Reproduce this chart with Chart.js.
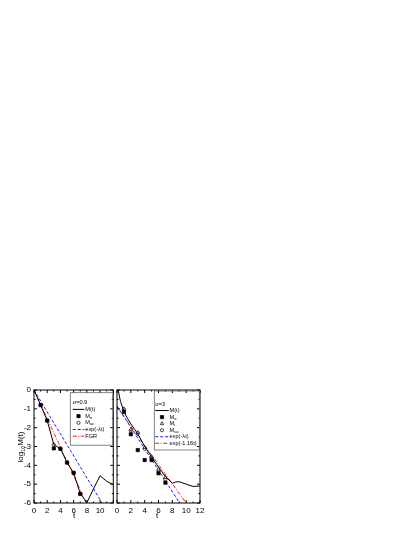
<!DOCTYPE html>
<html>
<head>
<meta charset="utf-8">
<script src="https://cdn.jsdelivr.net/npm/chart.js@4"></script>
<style>
  body { margin: 0; background: #fff; width: 415px; height: 537px; position: relative; overflow: hidden;
         font-family: "Liberation Sans", Arial, sans-serif; }
  .wrap { position: absolute; }
  #wrapL { left: 0; top: 380px; width: 118px; height: 140px; }
  #wrapR { left: 110px; top: 380px; width: 100px; height: 140px; }
  .lbl { position: absolute; font-size: 8px; color: #000; white-space: nowrap; }
  #ylab { left: 21px; top: 447px; transform: translate(-50%, -50%) rotate(-90deg); }
  #ylab sub { font-size: 5.5px; }
</style>
</head>
<body>
<div class="wrap" id="wrapL"><canvas id="left"></canvas></div>
<div class="wrap" id="wrapR"><canvas id="right"></canvas></div>
<div class="lbl" id="ylab">log<sub>10</sub>M(t)</div>
<div class="lbl" style="left:73px;top:511px;">t</div>
<div class="lbl" style="left:156px;top:511px;">t</div>
<script>
// axis ticks
const tTicks = [0, 2, 4, 6, 8, 10, 12];
const logTicks = [0, -1, -2, -3, -4, -5, -6];

// sigma = 0.9
const tLeftM = [0, 1, 2, 3, 4, 5, 6, 7, 8, 9, 10, 11, 12];
const leftM = [0, -0.8, -1.62, -2.9, -3.12, -3.85, -4.4, -5.5, -5.98, -5.25, -4.55, -4.85, -5.02];
const tLeftPts = [1, 2, 3, 4, 5, 6, 7];
const leftMe = [-0.8, -1.62, -3.1, -3.12, -3.85, -4.4, -5.52];
const leftMac = [-0.8, -1.62, -2.9, -3.12, -3.85, -4.4, -5.5];
const tLeftExp = [0, 10.3];
const leftExp = [0, -6];
const tLeftFgr = [0, 7.9];
const leftFgr = [0, -6];

// sigma = 3
const tRightM = [0, 0.5, 1, 1.5, 2, 3, 4, 5, 6, 7, 8, 8.5, 9, 10, 11, 12];
const rightM = [0.3, -0.6, -1.15, -1.5, -1.8, -2.32, -3.0, -3.55, -4.1, -4.6, -4.95, -4.88, -4.87, -5.0, -5.12, -5.1];
const tRightPts = [1, 2, 3, 4, 5, 6, 7];
const rightMe = [-1.17, -2.35, -3.19, -3.72, -3.72, -4.42, -4.92];
const rightMi = [-1.0, -2.1, -2.25, -3.05, -3.55, -4.2, -4.65];
const rightMac = [-1.05, -2.15, -2.3, -3.12, -3.6, -4.3, -4.75];
const tRightExp = [0, 9.05];
const rightExp = [-0.85, -6];
const tRightFit = [0, 10];
const rightFit = [-0.9, -6];

const BLUE = "#1a1aff";
const RED = "#ff1a1a";
const FONT = '"Liberation Sans", Arial, sans-serif';

function pts(ts, ys) {
  return ts.map((t, i) => ({ x: t, y: ys[i] }));
}

function lineSet(label, ts, ys, color, dash) {
  return { label, data: pts(ts, ys), showLine: true, borderColor: color, borderWidth: 1,
           borderDash: dash, pointRadius: 0, fill: false };
}

function markSet(label, ts, ys, style, filled, r) {
  return { label, data: pts(ts, ys), showLine: false, pointStyle: style, pointRadius: r,
           pointBackgroundColor: filled ? "#000" : "#fff", pointBorderColor: "#000",
           pointBorderWidth: 0.7 };
}

// frame with inward ticks on all four sides
const frameTicks = {
  id: "frameTicks",
  afterDatasetsDraw(chart) {
    const { ctx, chartArea: a, scales: { x, y } } = chart;
    ctx.save();
    ctx.strokeStyle = "#000";
    ctx.lineWidth = 1;
    ctx.strokeRect(a.left, a.top, a.right - a.left, a.bottom - a.top);
    ctx.beginPath();
    for (let i = 0; i < tTicks.length; i++) {
      const major = x.getPixelForValue(tTicks[i]);
      ctx.moveTo(major, a.bottom); ctx.lineTo(major, a.bottom - 3);
      ctx.moveTo(major, a.top); ctx.lineTo(major, a.top + 3);
      if (i < tTicks.length - 1) {
        const minor = x.getPixelForValue((tTicks[i] + tTicks[i + 1]) / 2);
        ctx.moveTo(minor, a.bottom); ctx.lineTo(minor, a.bottom - 1.5);
        ctx.moveTo(minor, a.top); ctx.lineTo(minor, a.top + 1.5);
      }
    }
    for (let i = 0; i < logTicks.length; i++) {
      const major = y.getPixelForValue(logTicks[i]);
      ctx.moveTo(a.left, major); ctx.lineTo(a.left + 3, major);
      ctx.moveTo(a.right, major); ctx.lineTo(a.right - 3, major);
      if (i < logTicks.length - 1) {
        const minor = y.getPixelForValue((logTicks[i] + logTicks[i + 1]) / 2);
        ctx.moveTo(a.left, minor); ctx.lineTo(a.left + 1.5, minor);
        ctx.moveTo(a.right, minor); ctx.lineTo(a.right - 1.5, minor);
      }
    }
    ctx.stroke();
    ctx.restore();
  }
};

// text with optional subscript pieces
function richText(ctx, parts, x, y) {
  for (const p of parts) {
    ctx.font = (p.sub ? "4.3px " : "5.6px ") + FONT;
    ctx.fillText(p.t, x, p.sub ? y + 1.5 : y);
    x += ctx.measureText(p.t).width;
  }
}

const boxLegend = {
  id: "boxLegend",
  afterDraw(chart, args, opts) {
    const { ctx, chartArea: a } = chart;
    const bx = a.right - opts.offRight - opts.width;
    const by = a.top + opts.offTop;
    ctx.save();
    ctx.strokeStyle = "#666";
    ctx.lineWidth = 0.8;
    ctx.strokeRect(bx, by, opts.width, opts.height);
    ctx.textBaseline = "middle";
    ctx.fillStyle = "#000";
    opts.items.forEach((it, i) => {
      const ry = a.top + opts.firstRow + i * opts.rowGap;
      const x0 = bx + opts.symL, x1 = bx + opts.symR, cx = (x0 + x1) / 2;
      ctx.save();
      if (it.kind === "line") {
        ctx.strokeStyle = it.color;
        ctx.lineWidth = 1;
        ctx.setLineDash(it.dash || []);
        ctx.beginPath(); ctx.moveTo(x0, ry); ctx.lineTo(x1, ry); ctx.stroke();
      } else if (it.kind === "mark") {
        ctx.lineWidth = 0.7;
        ctx.strokeStyle = "#000";
        ctx.fillStyle = it.filled ? "#000" : "#fff";
        Chart.helpers.drawPoint(ctx, { pointStyle: it.style, radius: it.r, borderWidth: 0.7 }, cx, ry);
      }
      ctx.restore();
      ctx.fillStyle = "#000";
      richText(ctx, it.text, it.kind === "title" ? x0 : bx + opts.textX, ry);
    });
    ctx.restore();
  }
};

function makeScales(showY, hideLast) {
  return {
    x: {
      type: "linear", min: 0, max: 12,
      grid: { display: false, drawTicks: false }, border: { display: false },
      afterBuildTicks: (s) => { s.ticks = tTicks.map(v => ({ value: v })); },
      ticks: { font: { size: 8, family: FONT }, color: "#000", padding: 3, maxRotation: 0,
               autoSkip: false, callback: (v) => (hideLast && v === 12 ? "" : String(v)) },
      afterFit: (s) => { s.height = 17; }
    },
    y: {
      type: "linear", min: -6, max: 0,
      grid: { display: false, drawTicks: false }, border: { display: false },
      afterBuildTicks: (s) => { s.ticks = logTicks.map(v => ({ value: v })); },
      ticks: { display: showY, font: { size: 8, family: FONT }, color: "#000", padding: 3,
               callback: (v) => String(v) },
      afterFit: (s) => { s.width = showY ? 34 : 7; }
    }
  };
}

new Chart(document.getElementById("left"), {
  type: "scatter",
  data: {
    datasets: [
      markSet("Me", tLeftPts, leftMe, "rect", true, 2.3),
      lineSet("M(t)", tLeftM, leftM, "#000", []),
      markSet("Mac", tLeftPts, leftMac, "circle", false, 1.6),
      lineSet("exp(-λt)", tLeftExp, leftExp, BLUE, [3, 2]),
      lineSet("FGR", tLeftFgr, leftFgr, RED, [4, 1.5, 1, 1.5])
    ]
  },
  options: {
    responsive: true, maintainAspectRatio: false, animation: false, events: [],
    layout: { padding: { top: 10, right: 1, left: 0, bottom: 0 } },
    scales: makeScales(true, true),
    plugins: {
      legend: { display: false }, tooltip: { enabled: false },
      boxLegend: {
        width: 42.5, height: 52.5, offRight: 0.5, offTop: 2.7,
        firstRow: 12.7, rowGap: 6.7, symL: 2.4, symR: 14, textX: 15,
        items: [
          { kind: "title", text: [{ t: "σ=0.9" }] },
          { kind: "line", color: "#000", text: [{ t: "M(t)" }] },
          { kind: "mark", style: "rect", filled: true, r: 2.3, text: [{ t: "M" }, { t: "e", sub: true }] },
          { kind: "mark", style: "circle", filled: false, r: 1.6, text: [{ t: "M" }, { t: "ac", sub: true }] },
          { kind: "line", color: BLUE, dash: [3, 2], text: [{ t: "exp(-λt)" }] },
          { kind: "line", color: RED, dash: [4, 1.5, 1, 1.5], text: [{ t: "FGR" }] }
        ]
      }
    }
  },
  plugins: [frameTicks, boxLegend]
});

new Chart(document.getElementById("right"), {
  type: "scatter",
  data: {
    datasets: [
      markSet("Me", tRightPts, rightMe, "rect", true, 2.3),
      lineSet("M(t)", tRightM, rightM, "#000", []),
      markSet("Mi", tRightPts, rightMi, "triangle", false, 2),
      markSet("Mac", tRightPts, rightMac, "circle", false, 1.6),
      lineSet("exp(-λt)", tRightExp, rightExp, BLUE, [3, 2]),
      lineSet("exp(-1.16t)", tRightFit, rightFit, RED, [4, 1.5, 1, 1.5])
    ]
  },
  options: {
    responsive: true, maintainAspectRatio: false, animation: false, events: [],
    layout: { padding: { top: 10, right: 10, left: 0, bottom: 0 } },
    scales: makeScales(false, false),
    plugins: {
      legend: { display: false }, tooltip: { enabled: false },
      boxLegend: {
        width: 45, height: 59, offRight: 0.7, offTop: 1,
        firstRow: 14, rowGap: 6.55, symL: 0.9, symR: 14.5, textX: 15.3,
        items: [
          { kind: "title", text: [{ t: "σ=3" }] },
          { kind: "line", color: "#000", text: [{ t: "M(t)" }] },
          { kind: "mark", style: "rect", filled: true, r: 2.3, text: [{ t: "M" }, { t: "e", sub: true }] },
          { kind: "mark", style: "triangle", filled: false, r: 2, text: [{ t: "M" }, { t: "i", sub: true }] },
          { kind: "mark", style: "circle", filled: false, r: 1.6, text: [{ t: "M" }, { t: "ac", sub: true }] },
          { kind: "line", color: BLUE, dash: [3, 2], text: [{ t: "exp(-λt)" }] },
          { kind: "line", color: RED, dash: [4, 1.5, 1, 1.5], text: [{ t: "exp(-1.16t)" }] }
        ]
      }
    }
  },
  plugins: [frameTicks, boxLegend]
});
</script>
</body>
</html>
